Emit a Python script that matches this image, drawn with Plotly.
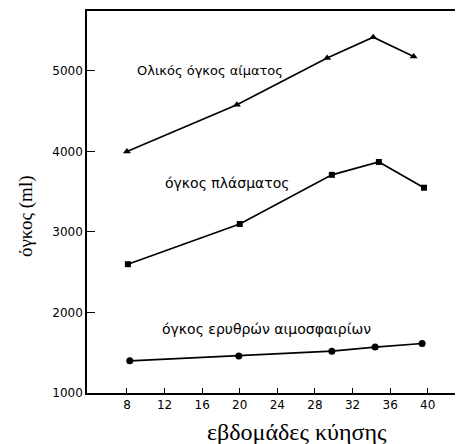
import plotly.graph_objects as go

# Data
weeks_total = [8, 19.7, 29.3, 34.2, 38.5]
total_volume = [4000, 4580, 5160, 5420, 5180]

weeks_plasma = [8.1, 20, 29.8, 34.8, 39.6]
plasma_volume = [2600, 3100, 3710, 3870, 3550]

weeks_rbc = [8.3, 19.9, 29.8, 34.4, 39.4]
rbc_volume = [1400, 1460, 1520, 1570, 1615]

x_ticks = [8, 12, 16, 20, 24, 28, 32, 36, 40]
y_ticks = [1000, 2000, 3000, 4000, 5000]

label_total = "Ολικός όγκος αίματος"
label_plasma = "όγκος πλάσματος"
label_rbc = "όγκος ερυθρών αιμοσφαιρίων"
x_title = "εβδομάδες κύησης"
y_title = "όγκος (ml)"

fig = go.Figure()
line_style = dict(color="black", width=1.7)
fig.add_trace(go.Scatter(x=weeks_total, y=total_volume, mode="lines+markers",
                         line=line_style,
                         marker=dict(symbol="triangle-up", size=7, color="black")))
fig.add_trace(go.Scatter(x=weeks_plasma, y=plasma_volume, mode="lines+markers",
                         line=line_style,
                         marker=dict(symbol="square", size=6, color="black")))
fig.add_trace(go.Scatter(x=weeks_rbc, y=rbc_volume, mode="lines+markers",
                         line=line_style,
                         marker=dict(symbol="circle", size=7, color="black")))

fig.add_annotation(x=16.8, y=5012, text=label_total, showarrow=False,
                   font=dict(family="DejaVu Sans", size=13, color="black"))
fig.add_annotation(x=18.7, y=3609, text=label_plasma, showarrow=False,
                   font=dict(family="DejaVu Sans", size=14, color="black"))
fig.add_annotation(x=22.8, y=1795, text=label_rbc, showarrow=False,
                   font=dict(family="DejaVu Sans", size=14, color="black"))

# axis titles
fig.add_annotation(x=0.5707, y=-0.102, xref="paper", yref="paper", text=x_title,
                   showarrow=False, xanchor="center", yanchor="middle",
                   font=dict(family="Liberation Serif", size=24, color="black"))
fig.add_annotation(x=-0.166, y=0.463, xref="paper", yref="paper", text=y_title,
                   showarrow=False, textangle=-90, xanchor="center", yanchor="middle",
                   font=dict(family="Liberation Serif", size=19, color="black"))

fig.update_layout(
    width=459, height=444,
    margin=dict(l=87, r=4, t=11, b=51),
    paper_bgcolor="white", plot_bgcolor="white",
    showlegend=False,
    xaxis=dict(range=[3.75, 42.9], tickvals=x_ticks, ticktext=[str(v) for v in x_ticks],
               showline=True, linecolor="black", linewidth=1.5, mirror=True,
               ticks="inside", ticklen=5, tickcolor="black", showgrid=False, zeroline=False,
               automargin=False,
               tickfont=dict(family="DejaVu Sans", size=12, color="black")),
    yaxis=dict(range=[1000, 5745], tickvals=y_ticks, ticktext=[str(v) for v in y_ticks],
               showline=True, linecolor="black", linewidth=1.5,
               ticks="inside", ticklen=8, tickcolor="black", showgrid=False, zeroline=False,
               automargin=False,
               tickfont=dict(family="DejaVu Sans", size=12, color="black")),
)

fig.write_html("out.html", config={"displayModeBar": False},
               post_script="document.body.style.margin='0';document.body.style.padding='0';")
